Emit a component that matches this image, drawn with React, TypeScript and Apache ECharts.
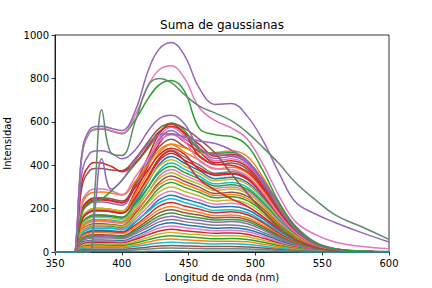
import React, { useEffect, useRef } from "react";
import * as echarts from "echarts";

// Wavelength grid (nm) shared by every curve
const WAVELENGTHS = [350, 364, 366, 368, 371, 376, 380, 385, 392, 400, 410, 420, 428, 437, 447, 458, 470, 482, 494, 506, 518, 530, 545, 560, 580, 600];

const X_TICKS = [350, 400, 450, 500, 550, 600];
const Y_TICKS = [0, 200, 400, 600, 800, 1000];

const C0 = "#1f77b4", C1 = "#ff7f0e", C2 = "#2ca02c", C3 = "#d62728", C4 = "#9467bd";
const C5 = "#8c564b", C6 = "#e377c2", C7 = "#7f7f7f", C8 = "#bcbd22", C9 = "#17becf";

// Bulk curves
const b01 = [0,0,29,120,199,233,240,240,235,226,317,443,545,590,549,496,441,450,419,324,207,113,41,14,4,0];
const b02 = [0,0,23,98,162,189,195,195,191,183,279,415,526,575,535,479,421,430,400,310,198,108,39,13,3,0];
const b03 = [0,0,28,115,191,223,230,230,225,216,303,421,517,560,521,478,431,440,409,317,202,110,40,13,4,0];
const b04 = [0,0,24,100,166,194,200,200,196,188,276,400,500,545,507,461,412,420,391,302,193,105,38,13,3,0];
const b05 = [0,0,30,125,208,243,250,250,245,235,309,407,485,520,484,444,402,410,381,295,189,103,37,12,3,0];
const b06 = [0,0,24,100,166,194,200,200,196,188,265,371,457,495,460,423,382,390,363,281,179,98,35,12,3,0];
const b07 = [0,0,20,85,141,165,170,170,167,160,236,344,431,470,437,401,363,370,344,266,170,93,33,11,3,0];
const b08 = [0,0,23,95,158,184,190,190,186,179,248,344,421,455,423,389,353,360,335,259,166,90,32,11,3,0];
const b09 = [0,0,20,83,137,160,165,165,162,155,226,325,404,440,409,375,338,345,321,248,159,86,31,10,3,0];
const b10 = [0,0,24,100,166,194,200,200,196,188,250,331,396,425,395,363,328,335,312,241,154,84,30,10,3,0];
const b11 = [0,0,18,75,125,146,150,150,147,141,207,301,376,410,381,349,314,320,298,230,147,80,29,10,3,0];
const b12 = [0,0,20,85,141,165,170,170,167,160,220,301,366,395,367,337,304,310,288,223,143,78,28,9,2,0];
const b13 = [0,0,17,70,116,136,140,140,137,132,193,279,349,380,353,325,294,300,279,216,138,75,27,9,2,0];
const b14 = [0,0,19,80,133,155,160,160,157,150,205,279,338,365,339,313,284,290,270,209,133,73,26,9,2,0];
const b15 = [0,0,16,65,108,126,130,130,127,122,178,258,321,350,326,299,270,275,256,198,127,69,25,8,2,0];
const b16 = [0,0,17,73,120,141,145,145,142,136,187,255,310,335,312,287,260,265,246,191,122,66,24,8,2,0];
const b17 = [0,0,14,60,100,116,120,120,118,113,164,236,294,320,298,275,250,255,237,184,117,64,23,8,2,0];
const b18 = [0,0,15,63,104,121,125,125,123,118,164,227,277,300,279,258,235,240,223,173,110,60,22,7,2,0];
const b19 = [0,0,14,58,95,112,115,115,113,108,151,211,259,280,260,241,220,225,209,162,104,56,20,7,2,0];
const b20 = [0,0,12,50,83,97,100,100,98,94,136,194,241,262,244,226,206,210,195,151,97,53,19,6,2,0];
const b21 = [0,0,13,55,91,107,110,110,108,103,140,188,227,245,228,210,191,195,181,140,90,49,18,6,2,0];
const b22 = [0,0,11,48,79,92,95,95,93,89,124,172,211,228,212,197,181,185,172,133,85,46,17,6,1,0];
const b23 = [0,0,11,45,75,87,90,90,88,85,116,160,194,210,195,182,167,170,158,122,78,43,15,5,1,0];
const b24 = [0,0,10,40,66,78,80,80,78,75,105,147,180,195,181,170,157,160,149,115,74,40,14,5,1,0];
const b25 = [0,0,9,38,62,73,75,75,74,71,98,136,166,180,167,158,147,150,140,108,69,38,14,5,1,0];
const b26 = [0,0,8,35,58,68,70,70,69,66,91,125,153,165,153,146,137,140,130,101,64,35,13,4,1,0];
const b27 = [0,0,8,33,54,63,65,65,64,61,84,114,139,150,140,131,123,125,116,90,58,31,11,4,1,0];
const b28 = [0,0,7,28,46,53,55,55,54,52,73,101,125,135,126,118,110,112,104,81,52,28,10,3,1,0];
const b29 = [0,0,6,25,42,49,50,50,49,47,65,91,111,120,112,105,98,100,93,72,46,25,9,3,1,0];
const b30 = [0,0,5,23,37,44,45,45,44,42,58,80,97,105,98,92,86,88,82,63,40,22,8,3,1,0];
const b31 = [0,0,5,19,32,37,38,38,37,36,49,68,83,90,84,79,74,75,70,54,35,19,7,2,1,0];
const b32 = [0,0,4,16,27,31,32,32,31,30,41,57,69,75,70,66,61,62,58,45,29,16,6,2,0,0];
const b33 = [0,0,3,13,22,25,26,26,25,24,33,46,56,60,56,53,49,50,47,36,23,13,5,2,0,0];
const b34 = [0,0,2,10,17,19,20,20,20,19,26,35,42,45,42,40,37,38,35,27,17,10,3,1,0,0];
const b35 = [0,0,2,7,11,13,13,13,13,12,17,23,28,30,28,26,25,25,23,18,12,6,2,1,0,0];
const b36 = [0,0,1,4,7,8,8,8,8,8,10,14,17,18,17,16,15,15,14,11,7,4,1,0,0,0];

// Distinctive curves
const redDiag = [0,0,23,95,160,185,190,190,186,178,250,350,430,465,420,335,285,245,210,160,105,58,22,7,2,0];
const red245 = [0,0,30,122,208,240,245,244,238,228,296,380,447,478,450,380,360,362,340,260,165,88,32,10,3,1];
const orange275 = [0,0,33,138,233,270,275,276,272,262,325,405,470,498,480,455,458,465,440,340,215,115,42,13,4,1];
const pink290 = [0,0,35,145,245,283,290,290,282,265,345,435,510,540,510,420,385,380,350,270,170,90,32,10,3,1];
const green235 = [0,0,28,115,195,228,235,245,280,330,405,480,550,595,560,470,455,458,420,320,200,105,38,12,4,1];
const brown385 = [0,0,46,190,322,376,385,385,378,375,430,510,570,592,570,520,455,360,270,185,110,55,18,5,1,0];
const red412 = [0,0,50,205,345,402,412,410,395,370,410,490,555,580,545,440,405,400,370,290,185,100,36,11,3,1];
const purple465 = [0,0,55,230,390,455,466,467,455,430,470,560,615,630,590,480,448,445,410,320,200,105,38,12,4,1];
const purple545 = [0,0,0,0,0,0,200,430,290,330,420,500,540,545,530,512,500,470,420,330,220,120,45,15,4,1];
const greenTop = [0,0,66,280,475,552,565,567,557,545,610,710,770,790,740,570,540,532,490,370,225,115,42,14,5,2];
const pinkTop = [0,0,68,285,480,555,568,570,560,548,630,770,840,858,800,665,605,572,520,400,255,140,80,45,25,15];
const purpleTop = [0,0,70,290,490,565,578,580,570,560,650,840,935,965,905,755,680,684,625,510,360,230,175,135,88,46];
const grayLong = [0,0,0,0,0,0,300,655,455,445,600,770,800,780,725,672,640,605,550,480,405,320,240,170,115,58];
const baseline = [0,0,0,1,2,2,2,2,2,2,2,3,4,5,4,4,4,4,4,3,2,1,0,0,0,0];

const CURVES: [number[], string][] = [
  [b01, C3], [b02, C6], [b03, C4], [b04, C3], [b05, C5], [b06, C1], [b07, C7], [b08, C3],
  [b09, C0], [b10, C8], [b11, C9], [b12, C2], [b13, C6], [b14, C8], [b15, C5], [b16, C1],
  [b17, C2], [b18, C8], [b19, C6], [b20, C0], [b21, C9], [b22, C3], [b23, C1], [b24, C5],
  [b25, C2], [b26, C4], [b27, C7], [b28, C0], [b29, C6], [b30, C3], [b31, C8], [b32, C2],
  [b33, C1], [b34, C9], [b35, C5], [b36, C7],
  [redDiag, C3], [red245, C3], [orange275, C1], [pink290, C6], [green235, C2], [brown385, C5],
  [red412, C3], [purple465, C4], [purple545, C4], [greenTop, C2], [pinkTop, C6], [purpleTop, C4],
  [grayLong, "#5f8a6c"], [baseline, "#1c8c96"],
];

const FONT = "DejaVu Sans";

export default function App() {
  const ref = useRef<HTMLDivElement>(null);
  useEffect(() => {
    if (!ref.current) return;
    const chart = echarts.init(ref.current, undefined, { renderer: "svg" });
    const series = CURVES.map(([vals, color], i) => ({
      type: "line",
      data: WAVELENGTHS.map((x, j) => [x, vals[j]]),
      showSymbol: false,
      symbol: "none",
      smooth: 0.4,
      clip: i !== CURVES.length - 1,
      silent: true,
      lineStyle: { color, width: 1.5 },
      z: 2,
    }));
    chart.setOption({
      animation: false,
      grid: {
        left: 55, right: 43, top: 35, bottom: 36, outerBoundsMode: "none", containLabel: false,
        show: true, borderColor: "#000", borderWidth: 0.8, backgroundColor: "transparent",
      },
      graphic: [
        { type: "text", x: 222, y: 25, style: { text: "Suma de gaussianas", font: `12px "${FONT}"`, fill: "#000", textAlign: "center", textVerticalAlign: "middle" } },
      ],
      xAxis: {
        type: "value", min: X_TICKS[0], max: X_TICKS[X_TICKS.length - 1], interval: 50,
        name: "Longitud de onda (nm)", nameLocation: "middle", nameGap: 19,
        nameTextStyle: { fontFamily: FONT, fontSize: 10, color: "#000", verticalAlign: "top" },
        axisLine: { show: true, lineStyle: { color: "#000", width: 0.8 } },
        axisTick: { show: true, length: 3.5, lineStyle: { color: "#000", width: 0.8 } },
        axisLabel: { fontFamily: FONT, fontSize: 10, color: "#000", margin: 6, formatter: (v: number) => String(v) },
        splitLine: { show: false },
      },
      yAxis: {
        type: "value", min: Y_TICKS[0], max: Y_TICKS[Y_TICKS.length - 1], interval: 200,
        name: "Intensidad", nameLocation: "middle", nameGap: 38, nameRotate: 90,
        nameTextStyle: { fontFamily: FONT, fontSize: 10, color: "#000" },
        axisLine: { show: true, lineStyle: { color: "#000", width: 0.8 } },
        axisTick: { show: true, length: 3.5, lineStyle: { color: "#000", width: 0.8 } },
        axisLabel: { fontFamily: FONT, fontSize: 10, color: "#000", margin: 6, formatter: (v: number) => String(v) },
        splitLine: { show: false },
      },
      series,
    });
    return () => chart.dispose();
  }, []);
  return <div ref={ref} style={{ position: "fixed", left: 0, top: 0, width: 432, height: 288, background: "#fff" }} />;
}
